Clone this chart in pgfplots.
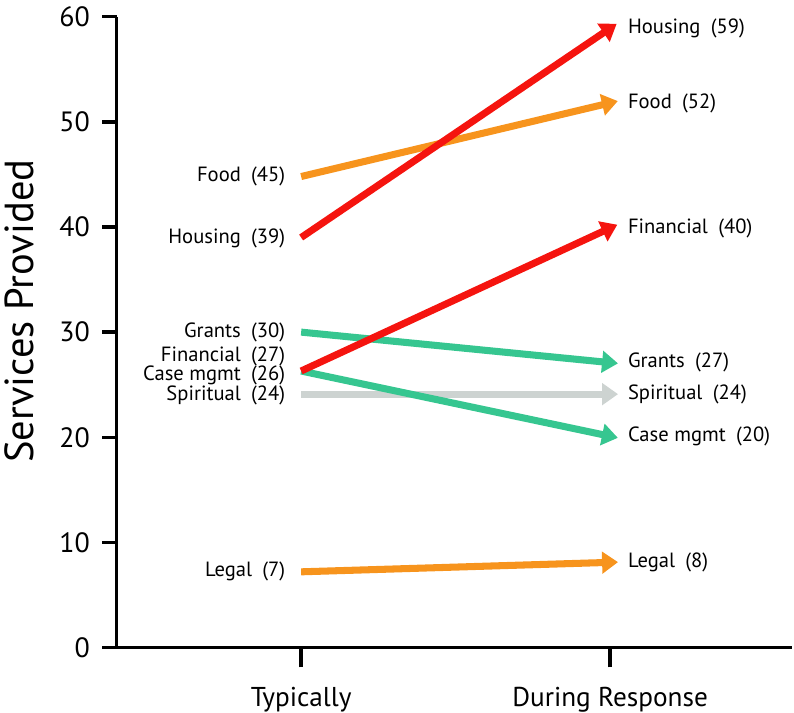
\documentclass[border=0pt]{standalone}
\usepackage{pgfplots}
\pgfplotsset{compat=1.18}
\usepackage{fontspec}
\setmainfont{PT Sans}
\usetikzlibrary{arrows.meta}
\definecolor{cred}{HTML}{F5140F}
\definecolor{corange}{HTML}{F7941D}
\definecolor{cteal}{HTML}{36C690}
\definecolor{cgray}{HTML}{CDD3D1}
\newcommand{\lbl}{\fontsize{15.5}{15.5}\selectfont}
\begin{document}
\begin{tikzpicture}
\begin{axis}[
  scale only axis, width=508.5pt, height=474.75pt,
  xmin=-0.597, xmax=1.59, ymin=0, ymax=60,
  axis x line=bottom, axis y line=left,
  axis line style={line width=2.5pt,-},
  xtick={0,1}, xticklabels={Typically, During Response},
  ytick={0,10,...,60},
  tick style={line width=2.5pt, black},
  major tick length=11pt,
  tick align=outside,
  x tick style={/pgfplots/major tick length=15pt},
  /pgf/number format/assume math mode=true,
  yticklabel style={font=\fontsize{21}{21}\selectfont, inner sep=0pt, xshift=-9pt},
  xticklabel style={font=\fontsize{20.5}{20.5}\selectfont, inner sep=0pt, yshift=-19pt},
  ylabel={Services Provided},
  ylabel style={font=\fontsize{30.5}{30.5}\selectfont, at={(axis cs:-0.913,32)}, anchor=center, rotate=0},
  every axis plot/.append style={line width=5.3pt, -{Triangle[length=12pt,width=16pt]}, shorten >=-6pt},
  clip=false,
]
\addplot[cgray] coordinates {(0,24.1) (1,24.1)};
\addplot[cteal] coordinates {(0,30.0) (1,27.1)};
\addplot[cteal] coordinates {(0,26.3) (1,20.1)};
\addplot[corange] coordinates {(0,7.2) (1,8.1)};
\addplot[corange] coordinates {(0,44.8) (1,51.8)};
\addplot[cred] coordinates {(0,26.3) (1,39.9)};
\addplot[cred] coordinates {(0,39.0) (1,58.9)};
% left labels
\node[anchor=east, font=\lbl, xshift=-8.5pt] at (axis cs:0,44.8) {Food\hspace{0.5em}(45)};
\node[anchor=east, font=\lbl, xshift=-8.5pt] at (axis cs:0,38.9) {Housing\hspace{0.5em}(39)};
\node[anchor=east, font=\lbl, xshift=-8.5pt] at (axis cs:0,30.0) {Grants\hspace{0.5em}(30)};
\node[anchor=east, font=\lbl, xshift=-8.5pt] at (axis cs:0,27.7) {Financial\hspace{0.5em}(27)};
\node[anchor=east, font=\lbl, xshift=-8.5pt] at (axis cs:0,25.9) {Case mgmt\hspace{0.5em}(26)};
\node[anchor=east, font=\lbl, xshift=-8.5pt] at (axis cs:0,24.0) {Spiritual\hspace{0.5em}(24)};
\node[anchor=east, font=\lbl, xshift=-8.5pt] at (axis cs:0,7.2) {Legal\hspace{0.5em}(7)};
% right labels
\node[anchor=west, font=\lbl, xshift=10pt] at (axis cs:1,58.9) {Housing\hspace{0.5em}(59)};
\node[anchor=west, font=\lbl, xshift=10pt] at (axis cs:1,51.8) {Food\hspace{0.5em}(52)};
\node[anchor=west, font=\lbl, xshift=10pt] at (axis cs:1,39.9) {Financial\hspace{0.5em}(40)};
\node[anchor=west, font=\lbl, xshift=10pt] at (axis cs:1,27.1) {Grants\hspace{0.5em}(27)};
\node[anchor=west, font=\lbl, xshift=10pt] at (axis cs:1,24.1) {Spiritual\hspace{0.5em}(24)};
\node[anchor=west, font=\lbl, xshift=10pt] at (axis cs:1,20.1) {Case mgmt\hspace{0.5em}(20)};
\node[anchor=west, font=\lbl, xshift=10pt] at (axis cs:1,8.1) {Legal\hspace{0.5em}(8)};
\end{axis}
\path (current bounding box.north) ++(0,5pt);
\end{tikzpicture}
\end{document}
